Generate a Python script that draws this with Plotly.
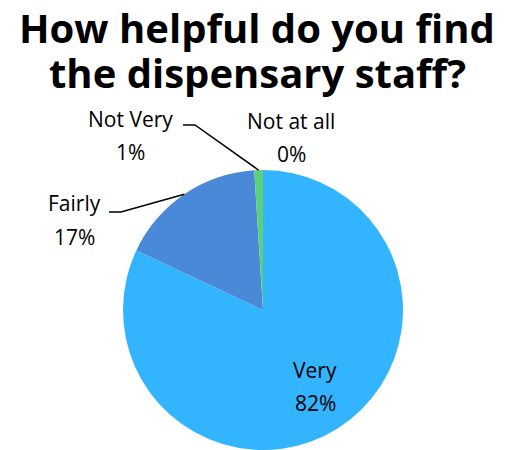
import math
import plotly.graph_objects as go

# Survey answers, clockwise from 12 o'clock
categories = ["Very", "Fairly", "Not Very", "Not at all"]
values = [82, 17, 1, 0]
colors = ["#33B4FF", "#4A88D8", "#5BD07A", "#A5A5A5"]
title_lines = ["How helpful do you find", "the dispensary staff?"]

W, H = 514, 450
# pie geometry in pixels
CX, CY, R = 263, 310, 140

# label placement (pixel centres of name line / percent line)
label_pos = {
    "Very": (315, 370, 403),
    "Fairly": (74, 203, 237),
    "Not Very": (130, 119, 152),
    "Not at all": (291, 121, 154),
}
# leader lines: start of the horizontal stub and its elbow
leaders = {
    "Fairly": ((109, 212), (121, 212)),
    "Not Very": ((183, 125), (195, 125)),
}
title_y = [27, 72]


def px(x):
    return x / W


def py(y):
    return 1 - y / H


fig = go.Figure(
    go.Pie(
        labels=categories,
        values=values,
        marker=dict(colors=colors, line=dict(width=0)),
        sort=False,
        direction="clockwise",
        rotation=0,
        textinfo="none",
        hoverinfo="label+percent",
        domain=dict(x=[px(CX - R), px(CX + R)], y=[py(CY + R), py(CY - R)]),
        showlegend=False,
    )
)

total = sum(values)
annotations = []
shapes = []
cum = 0
label_font = dict(family="'Open Sans', sans-serif", size=21, color="#000000")
title_font = dict(family="'Open Sans', sans-serif", size=40, color="#000000")

for line, ty in zip(title_lines, title_y):
    annotations.append(dict(x=0.5, y=py(ty), xref="paper", yref="paper",
                            text=f"<b>{line}</b>", showarrow=False, font=title_font,
                            xanchor="center", yanchor="middle"))

for name, v in zip(categories, values):
    pct = round(100 * v / total)
    lx, ly1, ly2 = label_pos[name]
    annotations.append(dict(x=px(lx), y=py(ly1), xref="paper", yref="paper",
                            text=name, showarrow=False, font=label_font,
                            xanchor="center", yanchor="middle"))
    annotations.append(dict(x=px(lx), y=py(ly2), xref="paper", yref="paper",
                            text=f"{pct}%", showarrow=False, font=label_font,
                            xanchor="center", yanchor="middle"))
    mid = (cum + v / 2) / total * 2 * math.pi
    cum += v
    if name in leaders:
        (x0, y0), (x1, y1) = leaders[name]
        ex = CX + R * math.sin(mid)
        ey = CY - R * math.cos(mid)
        path = (f"M {px(x0)} {py(y0)} L {px(x1)} {py(y1)} "
                f"L {px(ex)} {py(ey)}")
        shapes.append(dict(type="path", xref="paper", yref="paper", path=path,
                           line=dict(color="#000000", width=1.5)))

fig.update_layout(
    width=W,
    height=H,
    margin=dict(l=0, r=0, t=0, b=0),
    paper_bgcolor="#FFFFFF",
    plot_bgcolor="#FFFFFF",
    annotations=annotations,
    shapes=shapes,
)

fig.write_html("out.html")
